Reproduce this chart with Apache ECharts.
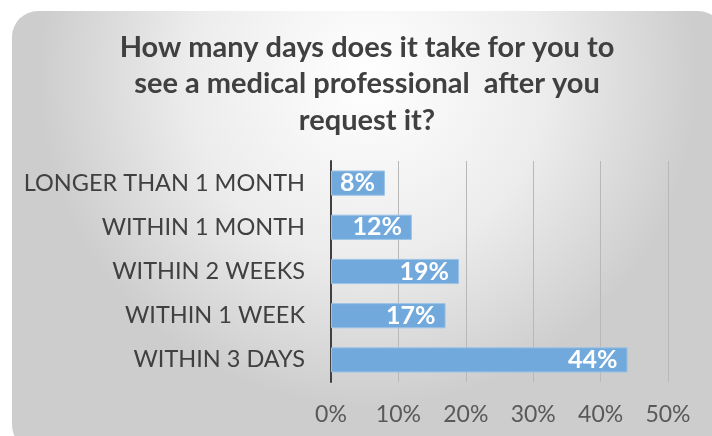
<!DOCTYPE html>
<html>
<head>
<meta charset="utf-8">
<script src="https://cdn.jsdelivr.net/npm/echarts@6/dist/echarts.min.js"></script>
<style>
  html, body { margin: 0; padding: 0; background: #fff; }
  #chart { width: 712px; height: 436px; }
</style>
</head>
<body>
<div id="chart"></div>
<script>
// bottom to top, as drawn
const categories = ['WITHIN 3 DAYS', 'WITHIN 1 WEEK', 'WITHIN 2 WEEKS', 'WITHIN 1 MONTH', 'LONGER THAN 1 MONTH']
const shares = [44, 17, 19, 12, 8]
const xTicks = [0, 10, 20, 30, 40, 50]

const chart = echarts.init(document.getElementById('chart'))

chart.setOption({
  backgroundColor: '#fff',
  textStyle: { fontFamily: 'Lato' },
  graphic: [{
    type: 'rect',
    z: -10,
    shape: { x: 12, y: 11, width: 712, height: 440, r: 26 },
    style: {
      fill: new echarts.graphic.RadialGradient(0.5, 0.15, 0.75, [
        { offset: 0, color: '#ffffff' },
        { offset: 0.55, color: '#ececec' },
        { offset: 1, color: '#cdcdcd' }
      ])
    },
    silent: true
  }],
  title: {
    text: 'How many days does it take for you to\nsee a medical professional  after you\nrequest it?',
    left: 362,
    top: 24,
    textAlign: 'center',
    textStyle: {
      fontFamily: 'Lato',
      fontWeight: 'bold',
      fontSize: 29,
      lineHeight: 36.5,
      color: '#404040'
    }
  },
  grid: {
    left: 331,
    right: 44,
    top: 161,
    bottom: 54,
    containLabel: false
  },
  xAxis: {
    type: 'value',
    min: xTicks[0],
    max: xTicks[xTicks.length - 1],
    interval: 10,
    axisLine: { show: false },
    axisTick: { show: false },
    axisLabel: {
      margin: 21,
      fontSize: 23,
      color: '#595959',
      formatter: '{value}%'
    },
    splitLine: {
      lineStyle: { color: '#b8b8b8', width: 1 }
    }
  },
  yAxis: {
    type: 'category',
    data: categories,
    axisLine: {
      lineStyle: { color: '#404040', width: 2 }
    },
    axisTick: { show: false },
    axisLabel: {
      margin: 26,
      fontSize: 23.5,
      color: '#404040'
    }
  },
  series: [{
    type: 'bar',
    data: shares,
    barCategoryGap: '43%',
    itemStyle: {
      color: '#71a9dc',
      borderColor: '#9cc3e6',
      borderWidth: 1
    },
    label: {
      show: true,
      position: 'insideRight',
      distance: 10,
      formatter: '{c}%',
      color: '#fff',
      fontWeight: 'bold',
      fontSize: 25
    }
  }]
})
</script>
</body>
</html>
